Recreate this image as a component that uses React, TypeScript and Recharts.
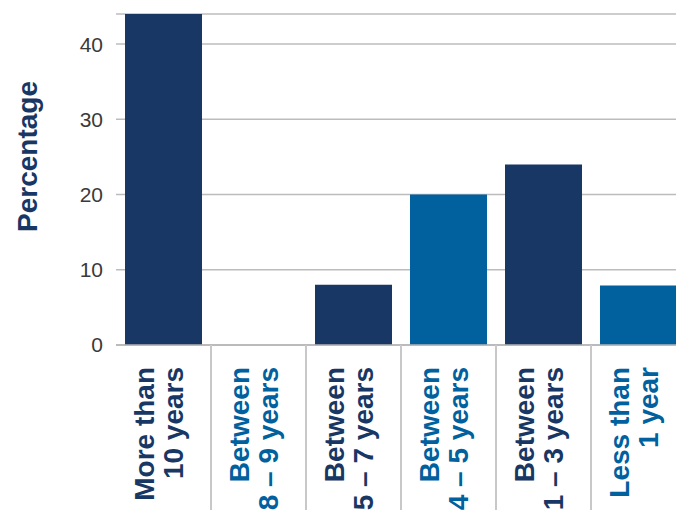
import React from "react";
import { BarChart, Bar, XAxis, YAxis, CartesianGrid, Cell, Label } from "recharts";

const categories = [
  "More than 10 years",
  "Between 8 – 9 years",
  "Between 5 – 7 years",
  "Between 4 – 5 years",
  "Between 1 – 3 years",
  "Less than 1 year",
];
const labelLine1 = ["More than", "Between", "Between", "Between", "Between", "Less than"];
const labelLine2 = ["10 years", "8 – 9 years", "5 – 7 years", "4 – 5 years", "1 – 3 years", "1 year"];
const percentages = [44, 0, 8, 20, 24, 7.9];
const yTicks = [0, 10, 20, 30, 40];

const NAVY = "#183764";
const BLUE = "#00619e";
const FONT = "'Liberation Sans', Arial, Helvetica, sans-serif";

const CHART_W = 700;
const CHART_H = 510;
const LEFT = 116;
const RIGHT = 14;
const BAND = (CHART_W - LEFT - RIGHT) / categories.length;

const data = categories.map((name, i) => ({
  name,
  line1: labelLine1[i],
  line2: labelLine2[i],
  value: percentages[i],
}));

const colorFor = (i: number) => (i % 2 === 0 ? NAVY : BLUE);

// rotated two-line category label plus the separator on its left
function CategoryTick(props: any) {
  const { x, y, index } = props;
  const row = data[index];
  const fill = colorFor(index);
  return (
    <g>
      {index > 0 && (
        <line x1={x - BAND / 2} x2={x - BAND / 2} y1={y - 8} y2={y + 200} stroke="#c8c8c8" strokeWidth={2} />
      )}
      <text
        transform={`translate(${x},${y + 14}) rotate(-90)`}
        textAnchor="end"
        fontFamily={FONT}
        fontWeight="bold"
        fontSize={28}
        fill={fill}
      >
        <tspan x={0} y={-9.5}>{row.line1}</tspan>
        <tspan x={0} y={19.5}>{row.line2}</tspan>
      </text>
    </g>
  );
}

function YLabel(props: any) {
  const vb = props.viewBox || { x: 0, y: 0, height: 0 };
  const cx = vb.x + 37;
  const cy = vb.y + vb.height / 2 - 23;
  return (
    <text
      transform={`translate(${cx},${cy}) rotate(-90)`}
      textAnchor="middle"
      fontFamily={FONT}
      fontWeight="bold"
      fontSize={28}
      fill={NAVY}
    >
      Percentage
    </text>
  );
}

export default function App() {
  return (
    <div
      style={{
        position: "fixed",
        top: 0,
        left: 0,
        width: 676,
        height: 510,
        overflow: "hidden",
        background: "#fff",
      }}
    >
      <BarChart
        width={CHART_W}
        height={CHART_H}
        data={data}
        margin={{ top: 14, right: RIGHT, bottom: 0, left: 0 }}
      >
        <CartesianGrid vertical={false} stroke="#bcbcbc" strokeWidth={1.5} />
        <XAxis
          dataKey="name"
          height={165}
          interval={0}
          tickLine={false}
          axisLine={{ stroke: "#b4b4b4", strokeWidth: 1.5 }}
          tick={<CategoryTick />}
        />
        <YAxis
          width={LEFT}
          domain={[0, 44]}
          ticks={yTicks}
          tickLine={false}
          axisLine={false}
          tickMargin={7}
          tick={{ fontFamily: FONT, fontSize: 21, fill: "#3a3a3a" }}
        >
          <Label content={<YLabel />} />
        </YAxis>
        <Bar dataKey="value" barSize={77} isAnimationActive={false}>
          {data.map((_, i) => (
            <Cell key={`cell-${i}`} fill={colorFor(i)} />
          ))}
        </Bar>
      </BarChart>
    </div>
  );
}
